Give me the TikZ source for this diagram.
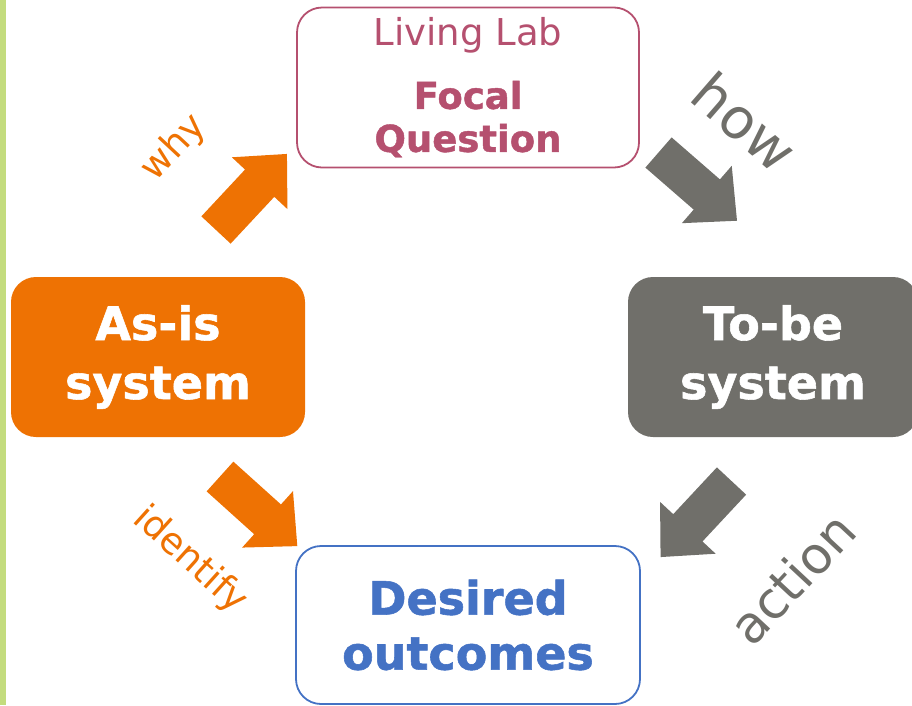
\documentclass[tikz,border=0pt]{standalone}
\usepackage{fontspec}
\setmainfont{DejaVu Sans}[BoldFeatures={FakeBold=1.2}]
\usepackage{tikz}
\usetikzlibrary{positioning}
\definecolor{asisorange}{HTML}{EE7203}
\definecolor{tobegrey}{HTML}{706F6A}
\definecolor{focalpink}{HTML}{B5506F}
\definecolor{outcomeblue}{HTML}{4472C4}
\definecolor{barlime}{HTML}{C3DC7E}
\tikzset{
  fatarrow/.pic={
    \fill[#1] (0,-20) -- (64,-20) -- (64,-38) -- (104,0)
      -- (64,38) -- (64,20) -- (0,20) -- cycle;
  }
}

\begin{document}
\begin{tikzpicture}[x=1pt, y=-1pt,
    box/.style={rounded corners=25pt, minimum height=160pt, align=center, inner sep=0pt},
    bigtext/.style={font=\bfseries\fontsize{46}{59}\selectfont},
    lbl/.style={font=\fontsize{#1}{#1}\selectfont, inner sep=0pt}]

                \useasboundingbox (0,0) rectangle (912,705);
                \fill[barlime] (0,0) rectangle (6,705);

                % Nodes
                \node at (468,87.5) (focal) [box, draw=focalpink, line width=1.8pt, minimum width=342pt, text=focalpink, font=\fontsize{37}{43}\selectfont] {Living Lab\\[20pt]\textbf{Focal}\\\textbf{Question}};
                \node at (158,357) (asis) [box, fill=asisorange, minimum width=294pt, text=white, bigtext] {As-is\\system};
                \node at (773,357) (tobe) [box, fill=tobegrey, minimum width=290pt, text=white, bigtext] {To-be\\system};
                \node at (468,625) (outcome) [box, draw=outcomeblue, line width=1.8pt, minimum width=344pt, minimum height=158pt, text=outcomeblue, font=\bfseries\fontsize{46}{55}\selectfont] {Desired\\outcomes};

                % Labels
                \node at (174,148) (why) [lbl=37, text=asisorange, rotate=47] {why};
                \node at (745,122) (how) [lbl=56, text=tobegrey, rotate=-41] {how};
                \node at (190,560) (identify) [lbl=37, text=asisorange, rotate=-42] {identify};
                \node at (792,578) (action) [lbl=51, text=tobegrey, rotate=47] {action};

                % Arrows
                \pic[rotate=47] at (216,230) {fatarrow=asisorange};
                \pic[rotate=-41] at (658.5,152.5) {fatarrow=tobegrey};
                \pic[rotate=-42] at (220,476.5) {fatarrow=asisorange};
                \pic[rotate=227] at (731.5,481) {fatarrow=tobegrey};

\end{tikzpicture}
\end{document}
